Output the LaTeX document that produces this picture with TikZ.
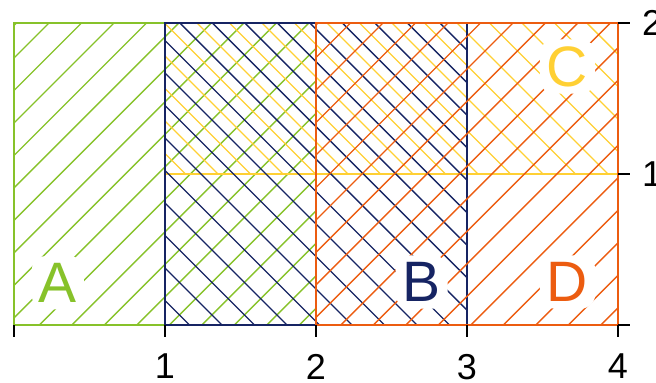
\documentclass[tikz,border=0pt]{standalone}
\usepackage{fontspec}
\setmainfont{Liberation Sans}
\definecolor{cgreen}{RGB}{135,194,42}
\definecolor{cnavy}{RGB}{22,36,99}
\definecolor{cyellow}{RGB}{255,208,52}
\definecolor{corange}{RGB}{236,92,16}
\begin{document}
\begin{tikzpicture}[x=151pt,y=151pt,
  hatch/.style={line width=1.3pt},
  border/.style={line width=1.6pt},
  ticklab/.style={font=\fontsize{36}{36}\selectfont, inner sep=0pt},
  biglab/.style={font=\fontsize{57}{57}\selectfont, inner sep=7pt,
    fill=white, rounded corners=14pt},
  tickmark/.style={line width=2pt, black}]
\useasboundingbox (-0.0927,-0.3841) rectangle (4.2517,2.1523);
% frame / spines
\draw[line width=2.4pt, black!55] (0,0) rectangle (4,2);
\draw[line width=2.4pt, black] (0,0) -- (4,0) -- (4,2);
% A
\begin{scope}
  \clip (0,0) rectangle (2,2);
  \foreach \k in {-20,...,30} \draw[hatch,cgreen] ({-0.047+0.2152*\k-1},-1) -- ++(4,4);
\end{scope}
\draw[border,cgreen] (0,0) rectangle (2,2);
% C
\begin{scope}
  \clip (1,1) rectangle (4,2);
  \foreach \k in {-20,...,30} \draw[hatch,cyellow] ({0.199+0.2152*\k+1},-1) -- ++(-4,4);
\end{scope}
\draw[border,cyellow] (1,1) rectangle (4,2);
% B
\begin{scope}
  \clip (1,0) rectangle (3,2);
  \foreach \k in {-20,...,30} \draw[hatch,cnavy] ({0.086+0.2152*\k+1},-1) -- ++(-4,4);
\end{scope}
\draw[border,cnavy] (1,0) rectangle (3,2);
% D
\begin{scope}
  \clip (2,0) rectangle (4,2);
  \foreach \k in {-20,...,30} \draw[hatch,corange] ({0.013+0.2152*\k-1},-1) -- ++(4,4);
\end{scope}
\draw[border,corange] (2,0) rectangle (4,2);
% ticks
\foreach \x in {0,...,4} \draw[tickmark] (\x,0) -- (\x,-0.08);
\foreach \x in {1,...,4} \node[ticklab,anchor=north] (xl\x) at (\x,-0.19) {\x};
\foreach \y in {0,1,2} \draw[tickmark] (4,\y) -- (4.08,\y);
\foreach \y in {1,2} \node[ticklab,anchor=west] (yl\y) at (4.159,\y) {\y};
% labels
\node[biglab,text=cgreen] (lA) at (0.29,0.28) {A};
\node[biglab,text=cnavy] (lB) at (2.70,0.285) {B};
\node[biglab,text=corange] (lD) at (3.666,0.285) {D};
\node[biglab,text=cyellow] (lC) at (3.666,1.712) {C};
\end{tikzpicture}
\end{document}
